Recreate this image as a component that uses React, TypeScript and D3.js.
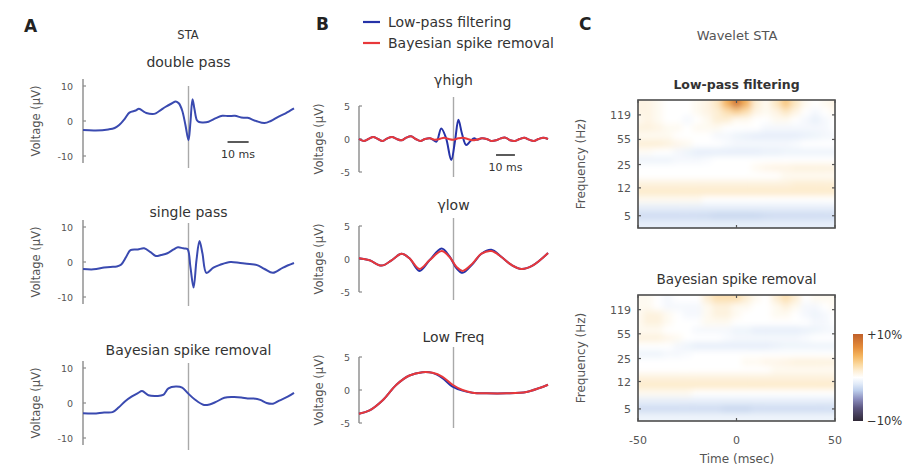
import React from "react";
import * as d3 from "d3";

const FONT = "'DejaVu Sans', Verdana, sans-serif";

// ---------------- Panel A: STA traces (time in ms, voltage in µV) ----------------
const aDoubleT = [-50, -44, -38, -35, -33, -30, -28, -25, -23.5, -21, -20, -17, -15.5, -13, -11, -8, -6, -4.5, -3, -1.5, 0, 0.9, 1.9, 2.8, 4, 5, 7, 9.5, 13, 16, 19, 22, 25, 28, 32, 36, 39, 42.5, 46, 50];
const aDoubleV = [-2.6, -2.7, -2.4, -2.0, -1.2, 0.8, 2.4, 3.0, 3.5, 2.6, 2.3, 2.0, 2.2, 3.2, 4.0, 5.0, 5.6, 5.0, 3.0, -1.0, -5.5, -0.5, 6.2, 3.5, 0.2, -0.3, -0.4, -0.2, 0.8, 1.5, 1.4, 1.5, 1.0, 0.9, 0.0, -0.6, 0.0, 1.2, 2.2, 3.6];

const aSingleT = [-50, -45, -40, -37, -34, -32, -29.5, -27.5, -24, -21, -18, -15.5, -13, -10, -7, -5, -2.5, -0.5, 0.9, 2.4, 3.8, 5.2, 6.6, 8.5, 11.8, 15, 19.8, 24.5, 29, 32.5, 36, 40, 44.8, 50];
const aSingleV = [-2.0, -2.1, -1.6, -1.4, -1.3, -0.8, 1.5, 3.4, 3.6, 3.9, 2.8, 1.7, 2.0, 2.5, 3.6, 4.2, 3.9, 3.7, -1.4, -7.3, 0.6, 6.0, 2.5, -3.1, -1.6, -0.8, 0.0, -0.3, -0.6, -0.9, -2.0, -3.1, -1.6, -0.3];

const aBayesT = [-50, -45, -40, -36, -33, -30, -27, -24, -22, -19, -15, -12, -9.5, -6, -3, -0.5, 3, 7, 10, 13, 17, 21, 25, 28, 31, 34, 37, 40, 43, 47, 50];
const aBayesV = [-2.9, -3.0, -2.7, -2.6, -1.2, 0.5, 1.8, 2.8, 3.4, 2.2, 2.0, 2.3, 4.2, 4.7, 4.4, 2.9, 1.0, -0.5, -0.4, 0.3, 1.5, 1.7, 1.6, 1.3, 1.3, 0.9, 0.0, -0.2, 0.7, 1.8, 2.9];

const aTicks = [10, 0, -10];

// ---------------- Panel B: band-limited STAs ----------------
const gHighRedT = [-50, -47.5, -45, -42.5, -40, -37.5, -35, -32.5, -30, -27.5, -25, -22.5, -20, -17.5, -15, -12.5, -10, -7.5, -5, -2.5, 0, 2.5, 5, 7.5, 10, 12.5, 15, 17.5, 20, 22.5, 25, 27.5, 30, 32.5, 35, 37.5, 40, 42.5, 45, 47.5, 50];
const gHighRedV = [0, -0.3, 0, 0.3, 0, -0.3, 0.1, 0.3, 0, -0.2, 0.2, 0.4, 0, -0.3, 0, 0.1, -0.1, 0, 0.2, 0, -0.1, 0.1, 0.2, 0, -0.2, -0.1, 0.1, 0, -0.3, -0.2, 0.1, 0.2, -0.2, -0.3, 0, 0.2, -0.1, -0.3, 0, 0.2, 0];
const gHighBlueT = [-50, -47.5, -45, -42.5, -40, -37.5, -35, -32.5, -30, -27.5, -25, -22.5, -20, -17.5, -15, -12.5, -11, -9, -6.5, -4, -1.2, 0.8, 2.6, 4.5, 6.7, 9, 11, 12.5, 15, 17.5, 20, 22.5, 25, 27.5, 30, 32.5, 35, 37.5, 40, 42.5, 45, 47.5, 50];
const gHighBlueV = [0, -0.3, 0, 0.3, 0, -0.3, 0.1, 0.3, 0, -0.2, 0.2, 0.4, 0, -0.3, 0, 0.1, -0.1, -0.4, 1.6, 0.2, -3.2, -0.3, 2.9, 0.8, -0.9, -0.3, 0.1, -0.1, 0.1, 0, -0.3, -0.2, 0.1, 0.2, -0.2, -0.3, 0, 0.2, -0.1, -0.3, 0, 0.2, 0];

const gLowT = [-50, -44.4, -38.1, -32.8, -27.5, -23.3, -18, -12.7, -6.3, -2.1, 1.6, 4.8, 10, 14.8, 20, 25.4, 30.7, 36, 41.8, 50];
const gLowRedV = [0.1, -0.2, -1.0, -0.2, 0.8, 0.1, -1.5, -0.2, 1.2, 0.3, -1.2, -1.8, -0.7, 0.8, 1.2, 0.3, -0.9, -1.5, -1.0, 0.9];
const gLowBlueV = [0.1, -0.2, -1.0, -0.2, 0.8, 0.1, -1.8, -0.2, 1.6, 0.4, -1.4, -2.1, -0.8, 0.8, 1.4, 0.3, -0.9, -1.5, -1.0, 0.9];

const lowFT = [-50, -44.4, -37.6, -30.2, -23.3, -16.4, -11.1, -5.8, -0.5, 4.8, 10, 17.5, 28, 38.6, 45.5, 50];
const lowFRedV = [-3.6, -3.1, -1.6, 0.8, 2.2, 2.7, 2.6, 2.0, 0.8, 0.0, -0.4, -0.5, -0.5, -0.3, 0.3, 0.8];
const lowFBlueV = [-3.6, -3.1, -1.6, 0.8, 2.2, 2.7, 2.6, 1.8, 0.5, -0.1, -0.4, -0.5, -0.5, -0.3, 0.3, 0.8];

const bTicks = [5, 0, -5];

// ---------------- Panel C: wavelet STA (percent change) ----------------
const heatTimes = [-50, -45, -40, -35, -30, -25, -20, -15, -10, -5, 0, 5, 10, 15, 20, 25, 30, 35, 40, 45, 50];
const heatFreqs = [168, 131, 102, 79, 62, 48, 37, 29, 22.5, 17.5, 13.6, 10.6, 8.3, 6.4, 5, 3.9];
const heatLowPass = [
  [1, 1, 0.5, 0, 0, 0, 0.5, 1, 2, 5, 8.5, 5, 1.5, 0.5, 2, 4, 2, 0.5, 0, 0.5, 1],
  [1, 1, 0.5, 0, 0, 0, 0.5, 1, 1.5, 2.5, 3.5, 2.5, 1, 0.5, 1, 2, 1, 0, -0.5, 0, 0.5],
  [0.5, 1, 0.5, 0, 0, -0.5, 0, 0.5, 1.5, 1.5, 0.5, 0.5, 0, 0, 0.5, 0.5, 0, -0.5, -1, -0.5, 0],
  [1.2, 1.2, 1, 0.5, 0.5, 0, 0.5, 0.5, 0.5, 0, 0, 0, 0, -0.5, -0.5, -0.5, -0.5, -0.5, -0.5, -0.5, 0],
  [0.5, 0.5, 0.5, 0.5, 0, 0, 0, 0, -0.5, -0.5, -0.8, -1, -1.2, -1.2, -1.2, -1.2, -1.2, -1, -0.8, -0.6, -0.5],
  [1.5, 1.5, 1.5, 1.2, 0.8, 0.5, 0, 0, 0, -0.3, -0.5, -0.5, -0.5, -0.5, -0.5, -0.5, -0.3, 0, 0, 0, 0],
  [0.3, 0.3, 0, 0, -0.5, -0.8, -1.2, -1.2, -1.2, -1.2, -1.2, -1.2, -1.2, -1, -1, -0.8, -0.8, -0.8, -0.8, -0.8, -0.8],
  [-0.8, -0.8, -0.8, -0.8, -0.5, -0.5, -0.5, -0.3, 0, 0, 0, 0, 0, 0, 0, 0, 0, 0, 0, 0, 0],
  [0, 0, 0, 0, 0, 0, 0, 0, 0, 0, 0, 0, 0.5, 0.8, 1, 1, 1.2, 1.2, 1.2, 1.2, 1.2],
  [0, 0, 0, 0, 0, 0, 0, 0, 0, 0, 0, 0, 0, 0, 0, 0.5, 0.5, 0.5, 0.5, 0.5, 0.5],
  [1.2, 1.2, 1.2, 1.2, 1.2, 1.2, 1.2, 1.2, 1.2, 1.2, 1.2, 1.2, 1.2, 1.2, 1.2, 1.2, 1.5, 1.5, 1.5, 1.5, 1.5],
  [1.8, 1.8, 1.8, 1.8, 1.8, 1.8, 1.8, 1.8, 1.8, 1.8, 1.8, 1.8, 1.8, 1.8, 1.8, 1.8, 1.8, 1.8, 1.8, 1.8, 1.8],
  [0.5, 0.5, 0.5, 0.5, 0.5, 0.5, 0.5, 0, 0, 0, 0, 0, 0, 0, 0, 0, 0, 0, 0, 0, 0],
  [-1.2, -1.2, -1.2, -1.2, -1.2, -1.2, -1.2, -1.2, -1.2, -1.2, -1.2, -1.2, -1.2, -1.2, -1.2, -1.2, -1.2, -1.2, -1.2, -1.2, -1.2],
  [-2.2, -2.2, -2.2, -2.2, -2.2, -2.2, -2.2, -2.3, -2.5, -2.5, -2.5, -2.5, -2.5, -2.3, -2.2, -2.2, -2.2, -2.2, -2.2, -2.2, -2.2],
  [-1.2, -1.2, -1.2, -1.2, -1.2, -1.2, -1.2, -1.2, -1.2, -1.2, -1.2, -1.2, -1.2, -1.2, -1.2, -1.2, -1.2, -1.2, -1.2, -1.2, -1.2],
];
const heatBayes = [
  [0.5, 0.5, 0, -0.5, 0, 0, 0, 1.5, 2.5, 2.5, 2.5, 1.5, 0.5, 0, 1.5, 2.5, 1.5, 0, 0.5, 0.5, 0.5],
  [0.5, 0.5, 0, -0.5, -0.5, -0.5, -0.5, 0.5, 1.2, 1.2, 0.5, 0.5, 0, 0, 0.5, 1.2, 0.5, -0.5, -0.5, 0, 0.5],
  [0.5, 1.2, 1.2, 0.5, 0, -0.5, -0.5, 0.5, 1.2, 1.2, 0.5, 0, 0, 0, 0.5, 0.5, 0, -0.5, -0.8, -0.5, 0],
  [0.5, 1.2, 1.2, 0.5, 0, 0, 0, 0.5, 0.5, 0.5, 0, 0, 0, 0, 0, 0, 0, 0, -0.5, -0.5, 0],
  [0.5, 0.5, 0.5, 0, 0, 0, -0.5, -0.5, -0.5, -0.5, -0.8, -0.8, -1.2, -1.2, -1.2, -1.2, -1.2, -1, -0.8, -0.6, -0.5],
  [1.2, 1.2, 1.2, 0.8, 0.5, 0, 0, 0, 0, -0.3, -0.5, -0.5, -0.5, -0.5, -0.5, -0.5, -0.5, -0.3, 0, 0, 0],
  [0, 0, 0, 0, -0.5, -0.8, -1.2, -1.2, -1.2, -1.2, -1.2, -1.2, -1.2, -1.2, -1, -0.8, -0.8, -0.8, -0.8, -0.8, -0.8],
  [-0.8, -0.8, -0.8, -0.5, -0.5, -0.3, 0, 0, 0, 0, 0, 0, 0, 0, 0, 0, 0, 0, 0, 0, 0],
  [0, 0, 0, 0, 0, 0, 0, 0, 0, 0, 0, 0.5, 0.5, 0.8, 0.8, 1, 1.2, 1.2, 1.2, 1.2, 1.2],
  [0, 0, 0, 0, 0, 0, 0, 0, 0, 0, 0, 0, 0, 0, 0.5, 0.5, 0.5, 0.5, 0.5, 0.5, 0.5],
  [1.2, 1.2, 1.2, 1.2, 1.2, 1.2, 1.2, 1.2, 1.2, 1.2, 1.2, 1.2, 1.2, 1.2, 1.2, 1.2, 1.2, 1.2, 1.2, 1.2, 1.2],
  [1.8, 1.8, 1.8, 1.8, 1.8, 1.8, 1.8, 1.8, 1.8, 1.8, 1.8, 1.8, 1.8, 1.8, 1.8, 1.8, 1.8, 1.8, 1.8, 1.8, 1.8],
  [0.5, 0.5, 0.5, 0.5, 0.5, 0.5, 0, 0, 0, 0, 0, 0, 0, 0, 0, 0, 0, 0, 0, 0, 0],
  [-1.2, -1.2, -1.2, -1.2, -1.2, -1.2, -1.2, -1.2, -1.2, -1.2, -1.2, -1.2, -1.2, -1.2, -1.2, -1.2, -1.2, -1.2, -1.2, -1.2, -1.2],
  [-2.2, -2.2, -2.2, -2.2, -2.2, -2.2, -2.2, -2.2, -2.2, -2.5, -2.5, -2.5, -2.2, -2.2, -2.2, -2.2, -2.2, -2.2, -2.2, -2.2, -2.2],
  [-0.8, -0.8, -0.8, -0.8, -0.8, -0.8, -0.8, -0.8, -0.8, -0.8, -0.8, -0.8, -0.8, -0.8, -0.8, -0.8, -0.8, -0.8, -0.8, -0.8, -0.8],
];
const freqTicks = [119, 55, 25, 12, 5];
const timeTicks = [-50, 0, 50];
const colorStops = [-10, -7, -5, -3, -1.5, 0, 1.5, 3, 5, 7, 10];
const colorRange = ["#2f2836", "#5c5680", "#8a8cbc", "#bccdeb", "#e0eaf8", "#ffffff", "#fdefd6", "#fbd9a0", "#f4b45e", "#e48c3a", "#c0602a"];

const BLUE_A = "#3a4ab0";
const BLUE_B = "#2633a8";
const RED_B = "#e8383a";
const AXIS = "#8a8a8a";
const ZERO = "#a9a9a9";
const TXT = "#333";
const TXT2 = "#555";

function linePath(ts: number[], vs: number[], x: any, y: any) {
  const gen = d3
    .line<number>()
    .x((d) => x(d))
    .y((_, i) => y(vs[i]))
    .curve(d3.curveCatmullRom.alpha(0.5));
  return gen(ts) || "";
}

function YAxis({ x0, y, ticks, dom, labelX }: any) {
  return (
    <g>
      <line x1={x0} x2={x0} y1={y(dom[0])} y2={y(dom[1])} stroke={AXIS} strokeWidth={1.4} />
      {ticks.map((t: number) => (
        <g key={t}>
          <line x1={x0} x2={x0 + 3} y1={y(t)} y2={y(t)} stroke={AXIS} strokeWidth={1.2} />
          <text x={labelX} y={y(t) + 3.5} textAnchor="end" fontSize={9.5} fill={TXT2} fontFamily={FONT}>
            {t}
          </text>
        </g>
      ))}
    </g>
  );
}

function TracePlot({ xr, yr, dom, ticks, labelX, ylabelX, title, titleY, series, scaleBar, zeroExt }: any) {
  const x = d3.scaleLinear().domain([-50, 50]).range(xr);
  const y = d3.scaleLinear().domain(dom).range(yr);
  const cy = (yr[0] + yr[1]) / 2;
  return (
    <g>
      <text x={x(0)} y={titleY} textAnchor="middle" fontSize={14} fill={TXT} fontFamily={FONT}>
        {title}
      </text>
      <text
        transform={`translate(${ylabelX},${cy}) rotate(-90)`}
        textAnchor="middle"
        fontSize={11.5}
        fill={TXT2}
        fontFamily={FONT}
      >
        Voltage (µV)
      </text>
      <line x1={x(0)} x2={x(0)} y1={yr[1] - zeroExt[0]} y2={yr[0] + zeroExt[1]} stroke={ZERO} strokeWidth={1.4} />
      <YAxis x0={xr[0]} y={y} ticks={ticks} dom={dom} labelX={labelX} />
      {series.map((s: any, i: number) => (
        <path key={i} d={linePath(s.t, s.v, x, y)} fill="none" stroke={s.color} strokeWidth={2} strokeLinejoin="round" />
      ))}
      {scaleBar && (
        <g>
          <line x1={x(scaleBar.t0)} x2={x(scaleBar.t0 + 10)} y1={scaleBar.y} y2={scaleBar.y} stroke="#333" strokeWidth={1.6} />
          <text x={(x(scaleBar.t0) + x(scaleBar.t0 + 10)) / 2} y={scaleBar.y + 16} textAnchor="middle" fontSize={11} fill={TXT} fontFamily={FONT}>
            10 ms
          </text>
        </g>
      )}
    </g>
  );
}

function Heatmap({ id, top, bottom, data, title, bold, showX }: any) {
  const x0 = 638, x1 = 835;
  const x = d3.scaleLinear().domain([-50, 50]).range([x0, x1]);
  const y = d3.scaleLog().domain([3.4, 190]).range([bottom, top]);
  const color = d3.scaleLinear<string>().domain(colorStops).range(colorRange).clamp(true);
  const n = heatFreqs.length;
  const rows = heatFreqs.map((f, i) => {
    const fUp = i === 0 ? 190 : Math.sqrt(heatFreqs[i - 1] * f);
    const fLo = i === n - 1 ? 3.4 : Math.sqrt(f * heatFreqs[i + 1]);
    return { y0: y(fUp) - (i === 0 ? 10 : 0), y1: y(fLo) + (i === n - 1 ? 10 : 0) };
  });
  const cols = heatTimes.map((t, j) => {
    const a = x(t - 2.5) - (j === 0 ? 10 : 0);
    const b = x(t + 2.5) + (j === heatTimes.length - 1 ? 10 : 0);
    return { a, b };
  });
  return (
    <g>
      <defs>
        <clipPath id={`clip-${id}`}>
          <rect x={x0} y={top} width={x1 - x0} height={bottom - top} />
        </clipPath>
      </defs>
      <text x={x(0)} y={top - 11} textAnchor="middle" fontSize={bold ? 12.5 : 13.5} fill={TXT} fontWeight={bold ? "bold" : "normal"} fontFamily={FONT}>
        {title}
      </text>
      <g clipPath={`url(#clip-${id})`}>
        <g filter="url(#hblur)">
          {data.map((row: number[], i: number) =>
            row.map((v: number, j: number) => (
              <rect
                key={`${i}-${j}`}
                x={cols[j].a}
                y={rows[i].y0}
                width={cols[j].b - cols[j].a + 0.6}
                height={rows[i].y1 - rows[i].y0 + 0.6}
                fill={color(v)}
              />
            ))
          )}
        </g>
      </g>
      <rect x={x0} y={top} width={x1 - x0} height={bottom - top} fill="none" stroke="#4d4d4d" strokeWidth={1.6} />
      {freqTicks.map((f) => (
        <g key={f}>
          <line x1={x0} x2={x0 + 3} y1={y(f)} y2={y(f)} stroke="#555" strokeWidth={1.2} />
          <line x1={x1} x2={x1 - 3} y1={y(f)} y2={y(f)} stroke="#555" strokeWidth={1.2} />
          <text x={x0 - 7} y={y(f) + 4} textAnchor="end" fontSize={11} fill={TXT2} fontFamily={FONT}>
            {f}
          </text>
        </g>
      ))}
      {timeTicks.map((t) => (
        <g key={t}>
          <line x1={x(t)} x2={x(t)} y1={bottom} y2={bottom - 3} stroke="#555" strokeWidth={1.2} />
          <line x1={x(t)} x2={x(t)} y1={top} y2={top + 3} stroke="#555" strokeWidth={1.2} />
          {showX && (
            <text x={x(t)} y={bottom + 23} textAnchor="middle" fontSize={11} fill={TXT2} fontFamily={FONT}>
              {t}
            </text>
          )}
        </g>
      ))}
      <text
        transform={`translate(585,${(top + bottom) / 2}) rotate(-90)`}
        textAnchor="middle"
        fontSize={12}
        fill={TXT2}
        fontFamily={FONT}
      >
        Frequency (Hz)
      </text>
    </g>
  );
}

export default function App() {
  const cbTop = 334, cbBot = 421;
  const cb = d3.scaleLinear().domain([10, -10]).range([cbTop, cbBot]);
  const color = d3.scaleLinear<string>().domain(colorStops).range(colorRange).clamp(true);
  const gradStops = colorStops.slice().reverse();
  return (
    <svg
      width={916}
      height={468}
      viewBox="0 0 916 468"
      style={{ position: "absolute", left: 0, top: 0, background: "#fff" }}
    >
      <defs>
        <filter id="hblur" x="-10%" y="-10%" width="120%" height="120%">
          <feGaussianBlur stdDeviation={3.2} />
        </filter>
        <linearGradient id="cbgrad" x1="0" y1="0" x2="0" y2="1">
          {gradStops.map((v) => (
            <stop key={v} offset={`${((10 - v) / 20) * 100}%`} stopColor={color(v)} />
          ))}
        </linearGradient>
      </defs>
      <rect x={0} y={0} width={916} height={468} fill="#fff" />

      {/* Panel letters */}
      <text x={24} y={32} fontSize={17} fontWeight="bold" fill="#222" fontFamily={FONT}>A</text>
      <text x={316} y={30} fontSize={17} fontWeight="bold" fill="#222" fontFamily={FONT}>B</text>
      <text x={579} y={30} fontSize={17} fontWeight="bold" fill="#222" fontFamily={FONT}>C</text>

      {/* Panel A */}
      <text x={188} y={39} textAnchor="middle" fontSize={11.5} fill={TXT} fontFamily={FONT}>STA</text>
      <TracePlot
        xr={[83, 294]} yr={[163, 79]} dom={[-12, 12]} ticks={aTicks} labelX={73} ylabelX={40}
        title="double pass" titleY={67} zeroExt={[-7, 5]}
        series={[{ t: aDoubleT, v: aDoubleV, color: BLUE_A }]}
        scaleBar={{ t0: 18.5, y: 142 }}
      />
      <TracePlot
        xr={[83, 294]} yr={[304, 220]} dom={[-12, 12]} ticks={aTicks} labelX={73} ylabelX={40}
        title="single pass" titleY={217} zeroExt={[-3, 2]}
        series={[{ t: aSingleT, v: aSingleV, color: BLUE_A }]}
      />
      <TracePlot
        xr={[83, 294]} yr={[445, 361]} dom={[-12, 12]} ticks={aTicks} labelX={73} ylabelX={40}
        title="Bayesian spike removal" titleY={355} zeroExt={[-2, 5]}
        series={[{ t: aBayesT, v: aBayesV, color: BLUE_A }]}
      />

      {/* Panel B legend */}
      <line x1={363} x2={380} y1={22} y2={22} stroke={BLUE_B} strokeWidth={2.2} />
      <text x={388} y={27} fontSize={14} fill={TXT} fontFamily={FONT}>Low-pass filtering</text>
      <line x1={363} x2={380} y1={43} y2={43} stroke={RED_B} strokeWidth={2.2} />
      <text x={388} y={48} fontSize={14} fill={TXT} fontFamily={FONT}>Bayesian spike removal</text>

      <TracePlot
        xr={[359, 548]} yr={[172, 106]} dom={[-5, 5]} ticks={bTicks} labelX={350} ylabelX={323}
        title="γhigh" titleY={85} zeroExt={[9, 5]}
        series={[
          { t: gHighBlueT, v: gHighBlueV, color: BLUE_B },
          { t: gHighRedT, v: gHighRedV, color: RED_B },
        ]}
        scaleBar={{ t0: 22.5, y: 155 }}
      />
      <TracePlot
        xr={[359, 548]} yr={[292, 226]} dom={[-5, 5]} ticks={bTicks} labelX={350} ylabelX={323}
        title="γlow" titleY={210} zeroExt={[8, 8]}
        series={[
          { t: gLowT, v: gLowBlueV, color: BLUE_B },
          { t: gLowT, v: gLowRedV, color: RED_B },
        ]}
      />
      <TracePlot
        xr={[359, 548]} yr={[423, 357]} dom={[-5, 5]} ticks={bTicks} labelX={350} ylabelX={323}
        title="Low Freq" titleY={342} zeroExt={[10, 5]}
        series={[
          { t: lowFT, v: lowFBlueV, color: BLUE_B },
          { t: lowFT, v: lowFRedV, color: RED_B },
        ]}
      />

      {/* Panel C */}
      <text x={737} y={40} textAnchor="middle" fontSize={13} fill={TXT2} fontFamily={FONT}>Wavelet STA</text>
      <Heatmap id="lp" top={100} bottom={228} data={heatLowPass} title="Low-pass filtering" bold={true} showX={false} />
      <Heatmap id="bs" top={295} bottom={421} data={heatBayes} title="Bayesian spike removal" bold={false} showX={true} />
      <text x={737} y={463} textAnchor="middle" fontSize={12} fill={TXT2} fontFamily={FONT}>Time (msec)</text>

      {/* Colorbar */}
      <rect x={853} y={cbTop} width={10} height={cbBot - cbTop} fill="url(#cbgrad)" />
      <text x={867} y={cb(10) + 5} fontSize={11.5} fill={TXT} fontFamily={FONT}>+10%</text>
      <text x={867} y={cb(-10) + 4} fontSize={11.5} fill={TXT} fontFamily={FONT}>−10%</text>
    </svg>
  );
}
